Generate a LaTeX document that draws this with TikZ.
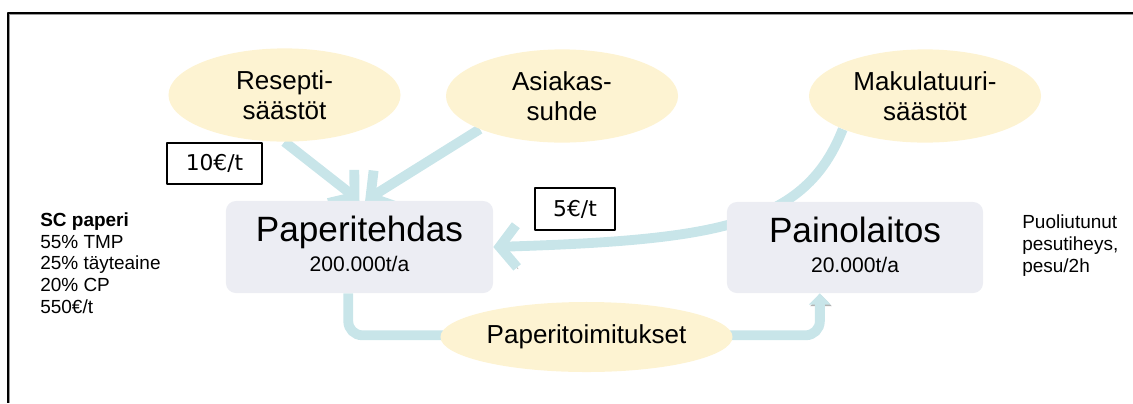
\documentclass[tikz,border=0pt]{standalone}
\usepackage{fontspec}
\setmainfont{Liberation Sans}
\newfontfamily\hintafont{DejaVu Sans}
\usepackage{tikz}
\usetikzlibrary{positioning}
\usetikzlibrary{arrows.meta}
\usetikzlibrary{shapes.geometric}
\usetikzlibrary{backgrounds}
\usepackage{xcolor}

\definecolor{kelta}{RGB}{253,243,210}
\definecolor{laatikko}{RGB}{236,237,243}
\definecolor{virtaus}{RGB}{200,229,233}

\begin{document}
\begin{tikzpicture}[x=0.025cm,y=-0.025cm,line join=round,
    saasto/.style={ellipse,fill=kelta,inner sep=0pt,minimum width=5.8cm,minimum height=2.33cm,font=\fontsize{18.5}{21.3}\selectfont},
    laitos/.style={rectangle,rounded corners=7pt,fill=laatikko,inner sep=0pt,font=\fontsize{15}{21.3}\selectfont},
    hinta/.style={rectangle,draw,line width=0.8pt,inner sep=0pt,font=\hintafont\fontsize{15.5}{16}\selectfont},
    virta/.style={draw=virtaus,line width=7pt,preaction={draw=black!30,transform canvas={shift={(0.8pt,-1.2pt)}}}},
    karki/.style={-{Straight Barb[length=12pt,width=30pt]}},
    selite/.style={align=left,anchor=base west,inner sep=0pt,font=\fontsize{13.5}{15.4}\selectfont}]
            \useasboundingbox (0,0) rectangle (1133,403);
            %
            \draw[line width=1.6pt,black] (1133,13) -- (8,13) -- (8,403);
            \draw[line width=0.6pt,black!40] (1133,14.8) -- (9.8,14.8) -- (9.8,403);
            %
            \node[align=center] (resepti) at (284.5,95) [saasto] {Resepti-\\säästöt};
            \node[align=center] (asiakas) at (562,96) [saasto] {Asiakas-\\suhde};
            \node[align=center] (makulatuuri) at (925,96) [saasto] {Makulatuuri-\\säästöt};
            %
            \node[align=center] (paperitehdas) at (359.5,247) [laitos,minimum width=6.675cm,minimum height=2.3cm] {{\fontsize{25}{21.3}\selectfont Paperitehdas}\\200.000t/a\rule[-4pt]{0pt}{0pt}};
            \node[align=center] (painolaitos) at (855,247.5) [laitos,minimum width=6.4cm,minimum height=2.275cm] {{\fontsize{25}{21.3}\selectfont Painolaitos}\\20.000t/a\rule[-4pt]{0pt}{0pt}};
            %
            \node[align=center] (toimitukset) at (586.5,337) [saasto,minimum width=7.3cm,minimum height=1.75cm] {Paperitoimitukset};
            %
            \node (hinta10) at (214.5,163.5) [hinta,minimum width=2.375cm,minimum height=1.025cm] {10€/t};
            \node (hinta5) at (575,209) [hinta,minimum width=2cm,minimum height=1.05cm] {5€/t};
            %
            \node (scpaperi) at (40,313) [selite] {\textbf{SC paperi}\\55\% TMP\\25\% täyteaine\\20\% CP\\550€/t};
            \node (pesu) at (1022,272) [selite] {Puoliutunut\\pesutiheys,\\pesu/2h};
            %
            \begin{scope}[on background layer]
            \draw [virta,karki] (resepti.south) to (paperitehdas.north);
            \draw [virta,karki] (asiakas.south west) to ([xshift=4pt]paperitehdas.north);
            \draw [virta,karki] (makulatuuri.south west) .. controls (805,225) and (720,240) .. (paperitehdas.east);
            \draw [virta,rounded corners=10pt,-{Triangle[length=8pt,width=15pt]}] ([xshift=-8pt]paperitehdas.south) -- ++(0,42) -| ([xshift=-25pt]painolaitos.south);
            \end{scope}
            %
        \end{tikzpicture}
\end{document}
